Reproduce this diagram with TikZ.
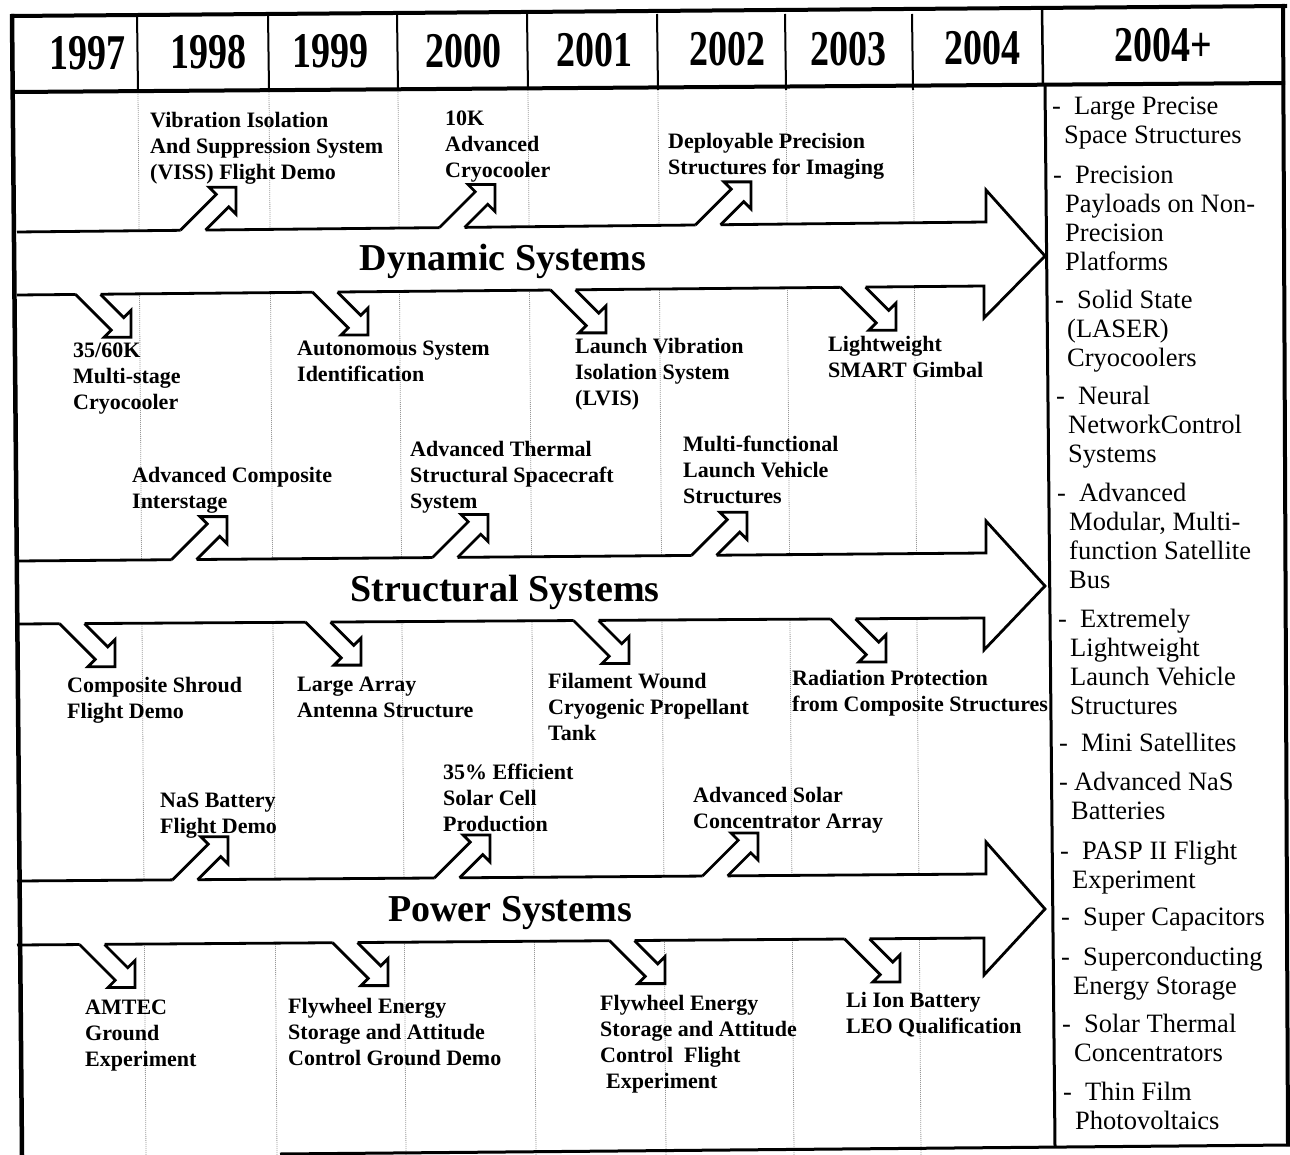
\documentclass[tikz,border=0pt]{standalone}
\usepackage{fontspec}
\setmainfont{Liberation Serif}
\usepackage{graphicx}
\begin{document}
\begin{tikzpicture}[x=1pt,y=-1pt,
  lab/.style={font=\fontsize{22}{26}\selectfont\bfseries, align=left, anchor=north west, inner sep=0pt},
  rcol/.style={font=\fontsize{26.5}{29}\selectfont, align=left, anchor=north west, inner sep=0pt},
  year/.style={font=\fontsize{50}{50}\selectfont\bfseries, inner sep=0pt},
  biglab/.style={font=\fontsize{38}{38}\selectfont\bfseries, inner sep=0pt, anchor=base},
  gridl/.style={gray!80, line width=0.8pt, dash pattern=on 1pt off 1pt},
  arr/.style={line width=2.8pt, line join=miter},
  upa/.pic={
    \fill[white] (-12.5,0) -- (23.25,-35.75) -- (16,-43) -- (43,-43) -- (43,-16) -- (35.75,-23.25) -- (12.5,0) -- (12.5,2.5) -- (-12.5,2.5) -- cycle;
    \draw[arr] (-12.5,0) -- (23.25,-35.75) -- (16,-43) -- (43,-43) -- (43,-16) -- (35.75,-23.25) -- (12.5,0);
  },
  dna/.pic={
    \fill[white] (-12.5,0) -- (23.25,35.75) -- (16,43) -- (43,43) -- (43,16) -- (35.75,23.25) -- (12.5,0) -- (12.5,-2.5) -- (-12.5,-2.5) -- cycle;
    \draw[arr] (-12.5,0) -- (23.25,35.75) -- (16,43) -- (43,43) -- (43,16) -- (35.75,23.25) -- (12.5,0);
  }
]
\useasboundingbox (0,0) rectangle (1290,1155);
\fill[white] (0,0) rectangle (1290,1155);

% dotted grid lines
\foreach \gx in {138,269,398,528,658,786,913}
  \draw[gridl] (\gx,90) -- ({\gx+8},1155);

% big arrows
\filldraw[fill=white, arr] (17,232) -- (986,222) -- (986,190) -- (1045,256) -- (984,318) -- (984,286) -- (17,295);
\filldraw[fill=white, arr] (17,561) -- (986,553) -- (986,521) -- (1045,586) -- (984,650) -- (984,618) -- (17,624);
\filldraw[fill=white, arr] (17,881) -- (986,874) -- (986,842) -- (1045,909) -- (984,975) -- (984,938) -- (17,945);

\node[biglab] (dyn) at (503,271) {Dynamic Systems};
\node[biglab] (str) at (505,601) {Structural Systems};
\node[biglab] (pow) at (510,921) {Power Systems};

% small arrows
\pic at (193,230.2) {upa};
\pic at (452,227.5) {upa};
\pic at (708,224.9) {upa};
\pic at (88,294.3) {dna};
\pic at (325,292.1) {dna};
\pic at (563,289.9) {dna};
\pic at (853,287.2) {dna};
\pic at (184,559.6) {upa};
\pic at (445,557.5) {upa};
\pic at (704,555.3) {upa};
\pic at (72,623.7) {dna};
\pic at (318,622.1) {dna};
\pic at (586,620.5) {dna};
\pic at (843,618.9) {dna};
\pic at (185,879.8) {upa};
\pic at (447,877.9) {upa};
\pic at (715,876.0) {upa};
\pic at (92,944.5) {dna};
\pic at (345,942.6) {dna};
\pic at (622,940.6) {dna};
\pic at (857,938.9) {dna};

% labels
\node[lab] (viss) at (150,112) {Vibration Isolation\\And Suppression System\\(VISS) Flight Demo};
\node[lab] (tenk) at (445,111) {10K\\Advanced\\Cryocooler};
\node[lab] (dpsi) at (668,133) {Deployable Precision\\Structures for Imaging};
\node[lab] (msc) at (73,343) {35/60K\\Multi-stage\\Cryocooler};
\node[lab] (asi) at (297,341) {Autonomous System\\Identification};
\node[lab] (lvis) at (575,338) {Launch Vibration\\Isolation System\\(LVIS)};
\node[lab] (lsg) at (828,336) {Lightweight\\SMART Gimbal};
\node[lab] (aci) at (132,467) {Advanced Composite\\Interstage};
\node[lab] (atss) at (410,441) {Advanced Thermal\\Structural Spacecraft\\System};
\node[lab] (mlvs) at (683,436) {Multi-functional\\Launch Vehicle\\Structures};
\node[lab] (csfd) at (67,677) {Composite Shroud\\Flight Demo};
\node[lab] (laas) at (297,677) {Large Array\\Antenna Structure};
\node[lab] (fwcp) at (548,673) {Filament Wound\\Cryogenic Propellant\\Tank};
\node[lab] (rpcs) at (792,670) {Radiation Protection\\from Composite Structures};
\node[lab] (nasb) at (160,793) {NaS Battery\\Flight Demo};
\node[lab] (esc) at (443,764) {35\% Efficient\\Solar Cell\\Production};
\node[lab] (asca) at (693,787) {Advanced Solar\\Concentrator Array};
\node[lab] (amtec) at (85,1000) {AMTEC\\Ground\\Experiment};
\node[lab] (fesg) at (288,998) {Flywheel Energy\\Storage and Attitude\\Control Ground Demo};
\node[lab] (fesf) at (600,995) {Flywheel Energy\\Storage and Attitude\\Control~~Flight\\\hspace*{6pt}Experiment};
\node[lab] (liion) at (846,992) {Li Ion Battery\\LEO Qualification};

% years
\node[year] (y1) at (87.5,53) {\scalebox{0.76}[1]{1997}};
\node[year] (y2) at (208.5,52) {\scalebox{0.76}[1]{1998}};
\node[year] (y3) at (330,51) {\scalebox{0.76}[1]{1999}};
\node[year] (y4) at (463.5,51) {\scalebox{0.76}[1]{2000}};
\node[year] (y5) at (594.5,50) {\scalebox{0.76}[1]{2001}};
\node[year] (y6) at (727.5,49) {\scalebox{0.76}[1]{2002}};
\node[year] (y7) at (848.5,49) {\scalebox{0.76}[1]{2003}};
\node[year] (y8) at (982.5,48) {\scalebox{0.76}[1]{2004}};
\node[year] (y9) at (1163.5,45) {\scalebox{0.76}[1]{2004+}};

% right column
\node[rcol] (r1) at (1052,97) {-\hspace{13pt}Large Precise\\\hspace*{12pt}Space Structures};
\node[rcol] (r2) at (1053,166) {-\hspace{13pt}Precision\\\hspace*{12pt}Payloads on Non-\\\hspace*{12pt}Precision\\\hspace*{12pt}Platforms};
\node[rcol] (r3) at (1055,290) {-\hspace{13pt}Solid State\\\hspace*{12pt}(LASER)\\\hspace*{12pt}Cryocoolers};
\node[rcol] (r4) at (1056,386) {-\hspace{13pt}Neural\\\hspace*{12pt}NetworkControl\\\hspace*{12pt}Systems};
\node[rcol] (r5) at (1057,483) {-\hspace{13pt}Advanced\\\hspace*{12pt}Modular, Multi-\\\hspace*{12pt}function Satellite\\\hspace*{12pt}Bus};
\node[rcol] (r6) at (1058,609) {-\hspace{13pt}Extremely\\\hspace*{12pt}Lightweight\\\hspace*{12pt}Launch Vehicle\\\hspace*{12pt}Structures};
\node[rcol] (r7) at (1059,733) {-\hspace{13pt}Mini Satellites};
\node[rcol] (r8) at (1059,772) {-\hspace{6pt}Advanced NaS\\\hspace*{12pt}Batteries};
\node[rcol] (r9) at (1060,841) {-\hspace{13pt}PASP II Flight\\\hspace*{12pt}Experiment};
\node[rcol] (r10) at (1061,908) {-\hspace{13pt}Super Capacitors};
\node[rcol] (r11) at (1061,947) {-\hspace{13pt}Superconducting\\\hspace*{12pt}Energy Storage};
\node[rcol] (r12) at (1062,1014) {-\hspace{13pt}Solar Thermal\\\hspace*{12pt}Concentrators};
\node[rcol] (r13) at (1063,1082) {-\hspace{13pt}Thin Film\\\hspace*{12pt}Photovoltaics};

% frame
\draw[line width=2pt] \foreach \hx in {137,268,397,527,657,785,912} { (\hx,14) -- ({\hx+1},90) };
\draw[line width=2.5pt] (1042,7) -- (1043,85);
\draw[line width=3pt] (1045,85) -- (1055,1146);
\draw[line width=4pt] (11,16) -- (1287,6);
\draw[line width=4pt] (13,92) -- (1285,83);
\draw[line width=4.5pt] (12,14) -- (22,1155);
\draw[line width=4pt] (1283,4) -- (1288,1146);
\draw[line width=3pt] (280,1154) -- (1290,1145);
\end{tikzpicture}
\end{document}
